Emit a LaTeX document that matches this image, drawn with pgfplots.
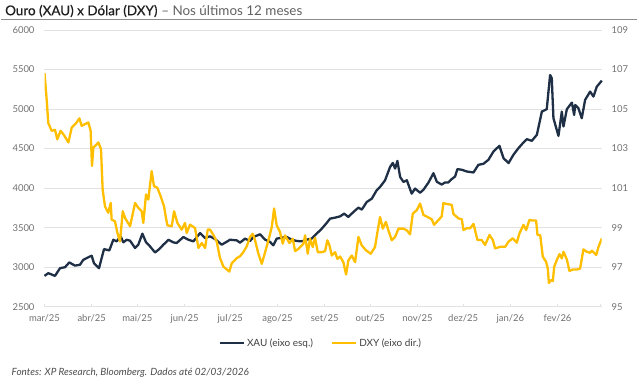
\documentclass[border=0pt]{standalone}
\usepackage{pgfplots}
\usepackage{pgfplotstable}
\pgfplotsset{compat=1.18}
\usepackage{fontspec}
\setmainfont{Lato}
\newfontfamily\titlefont{Lato}[FakeBold=0.5]
\definecolor{xau}{HTML}{1F2F45}
\definecolor{dxy}{HTML}{FFBF00}
\definecolor{tickgray}{HTML}{707070}
\definecolor{gridgray}{HTML}{E2E2E2}

\pgfplotstableread{
day val
0 2890
2.5 2924
6.9 2890
10.2 2987
13.5 3000
16.3 3060
20.0 3020
23.3 3030
25.5 3093
29.9 3136
31.0 3144
32.5 3050
35.8 2987
39.1 3229
42.6 3212
45.2 3347
47.4 3326
50.0 3390
51.8 3314
54.0 3347
56.2 3335
59.5 3242
61.6 3284
64.3 3424
66.7 3314
69.3 3263
72.6 3186
74.8 3220
78.1 3284
81.4 3347
84.6 3314
86.8 3305
91.2 3381
94.5 3347
97.8 3326
102.2 3432
105.5 3369
108.7 3390
112.0 3356
116.4 3284
121.9 3347
126.3 3339
128.4 3310
131.7 3361
135.0 3331
137.2 3382
141.6 3416
144.9 3348
148.2 3319
150.3 3276
152.5 3361
155.8 3373
159.1 3382
162.4 3348
165.7 3331
169.0 3327
172.3 3348
175.5 3361
178.8 3424
182.1 3487
185.0 3551
187.6 3614
190.9 3627
194.2 3643
196.8 3677
199.6 3635
202.9 3698
206.2 3753
208.4 3728
211.7 3825
215.0 3867
218.2 3973
220.4 4015
223.7 4099
227.0 4268
228.8 4319
230.3 4247
231.8 4344
233.6 4141
235.8 4078
238.0 4099
241.2 3930
243.4 3994
246.7 3942
248.9 3979
252.2 4070
255.5 4189
257.7 4080
260.9 4045
263.1 4072
265.3 4072
267.5 4114
269.7 4147
271.2 4240
274.1 4232
277.4 4210
281.8 4198
285.0 4295
288.3 4307
291.6 4358
294.9 4463
298.8 4535
301.5 4379
304.8 4316
308.0 4421
311.3 4505
314.6 4577
316.8 4619
320.1 4598
323.4 4674
326.7 4968
329.9 4998
332.1 5431
333.2 5389
334.3 4884
337.6 4661
339.8 4968
340.9 4779
343.1 4998
346.4 5082
347.9 4926
348.6 5052
350.7 5010
352.9 4884
355.1 5116
358.4 5221
360.6 5158
362.8 5284
366.1 5360
}\xautable

\pgfplotstableread{
day val
0 106.83
1.4 105.51
2.5 104.29
4.7 103.90
6.9 103.95
8.4 103.47
10.6 103.90
12.8 103.68
15.7 103.31
17.9 104.07
21.1 104.32
22.9 104.53
24.4 104.15
26.6 104.24
28.8 104.32
30.3 103.90
31.2 102.12
32.1 103.05
35.4 103.31
37.1 102.97
38.2 100.93
39.7 100.08
41.9 99.75
43.5 100.25
44.1 99.41
46.3 99.32
47.9 98.73
49.6 98.30
51.4 99.83
52.9 99.49
56.2 99.07
59.5 100.25
61.6 100.00
63.8 99.83
64.9 99.24
66.7 100.68
68.2 100.42
70.4 101.86
71.9 101.10
74.1 101.02
76.3 100.59
78.5 100.08
79.6 99.58
80.7 99.12
83.6 99.07
85.1 99.83
87.3 99.24
90.1 98.90
92.3 99.24
93.4 98.73
95.6 99.15
98.9 98.98
101.1 97.97
103.3 98.22
105.5 97.97
107.2 98.90
108.7 98.90
110.9 98.64
113.1 98.30
115.3 97.46
117.5 97.03
120.1 96.86
121.4 96.78
123.0 97.20
126.3 97.46
128.4 97.55
130.6 97.76
132.8 98.05
135.0 98.53
136.8 98.69
138.3 98.36
140.5 97.68
142.7 97.17
144.9 97.76
147.1 98.36
149.3 99.03
150.8 99.97
152.5 99.12
154.7 98.78
156.5 98.19
158.0 98.61
160.9 98.22
163.1 98.44
164.6 97.81
166.8 97.93
170.1 98.19
171.2 98.61
172.9 97.68
174.4 98.44
176.2 98.02
177.7 98.49
179.5 97.76
182.1 97.76
184.3 97.81
185.8 98.36
187.2 98.10
188.7 97.59
190.9 97.76
192.4 97.42
194.2 97.54
196.3 97.25
198.1 96.63
199.6 97.34
201.8 97.59
204.0 97.25
206.2 98.53
208.4 98.10
211.2 97.85
214.3 97.68
217.1 98.02
218.7 98.78
220.4 99.54
222.2 98.95
224.2 99.29
225.9 98.86
228.1 98.36
230.3 98.53
232.5 98.95
235.8 98.95
238.0 98.86
240.1 98.66
241.9 99.71
244.5 99.88
246.7 100.22
248.9 99.64
251.1 99.56
254.4 99.42
255.9 99.14
258.8 99.39
260.9 99.56
262.0 100.24
264.2 100.20
267.5 100.15
268.6 99.69
271.9 99.47
274.1 99.42
275.2 98.88
277.4 98.97
279.6 98.97
281.8 99.19
284.4 98.37
287.2 98.37
289.4 98.12
292.3 98.63
294.5 98.37
296.0 97.95
299.3 98.03
302.6 98.03
304.8 98.29
307.6 98.46
310.2 98.24
312.0 98.71
314.6 99.14
316.4 98.88
318.5 99.39
320.7 99.36
322.9 99.36
323.8 98.63
325.6 98.63
327.3 97.53
329.5 97.27
330.6 96.93
331.3 96.20
332.6 96.34
333.9 96.30
334.8 97.02
336.5 97.36
338.3 97.66
339.8 97.44
340.9 97.78
343.1 97.39
344.8 96.81
347.0 96.88
349.7 96.88
351.8 96.93
354.0 97.90
356.2 97.78
358.4 97.73
359.5 97.83
361.0 97.73
362.4 97.61
363.9 98.03
366.1 98.46
}\dxytable

\begin{document}
\begin{tikzpicture}
\useasboundingbox (0,0) rectangle (639bp,389bp);
\node[anchor=west, inner sep=0] at (5bp,378bp) {\fontsize{13.5}{15}\selectfont{\titlefont\color{black!88}Ouro (XAU) x Dólar (DXY)}\hspace{0.28em}\textcolor{black!62}{–\ Nos últimos 12 meses}};
\draw[black!45, line width=1bp] (1bp,369bp) -- (637bp,369bp);

\begin{axis}[
  at={(44.5bp,82.3bp)}, anchor=south west,
  scale only axis, width=557.2bp, height=276.7bp,
  xmin=0, xmax=366, ymin=2500, ymax=6000,
  axis x line*=bottom, axis y line*=left,
  y axis line style={draw=none},
  x axis line style={draw=gridgray, line width=0.8bp, -},
  ytick={2500,3000,...,6000},
  xtick={0,31,61,92,122,153,184,214,245,275,306,337,365},
  xticklabels={mar/25,abr/25,mai/25,jun/25,jul/25,ago/25,set/25,out/25,nov/25,dez/25,jan/26,fev/26,{}},
  ymajorgrids, grid style={draw=gridgray, line width=0.8bp},
  ytick style={draw=none},
  xtick style={draw=gridgray, line width=0.8bp},
  tick align=inside, major tick length=3bp,
  scaled y ticks=false,
  /pgf/number format/assume math mode=true,
  /pgf/number format/1000 sep={},
  ticklabel style={font=\fontsize{9.5}{11}\selectfont, text=tickgray},
  yticklabel style={xshift=-6.5bp},
  xticklabel style={yshift=-4bp},
  clip=false,
  legend style={at={(0.496,-0.131)}, anchor=center, draw=none, fill=none,
    legend columns=2, font=\fontsize{10}{12}\selectfont, text=black!75,
    /tikz/every even column/.append style={column sep=16bp},
    inner sep=0pt},
  legend cell align=left,
  legend image code/.code={\draw[#1] (0bp,0bp) -- (24bp,0bp);},
]
\addplot[xau, line width=2.3bp, line join=round] table[x=day,y=val] {\xautable};
\addlegendentry{XAU (eixo esq.)}
\addlegendimage{dxy, line width=2.3bp}
\addlegendentry{DXY (eixo dir.)}
\end{axis}

\begin{axis}[
  at={(44.5bp,82.3bp)}, anchor=south west,
  scale only axis, width=557.2bp, height=276.7bp,
  xmin=0, xmax=366, ymin=95, ymax=109,
  axis x line=none, axis y line*=right,
  y axis line style={draw=none},
  ytick={95,97,...,109},
  ytick style={draw=none},
  /pgf/number format/assume math mode=true,
  ticklabel style={font=\fontsize{9.5}{11}\selectfont, text=tickgray},
  yticklabel style={xshift=6.5bp},
]
\addplot[dxy, line width=2.3bp, line join=round] table[x=day,y=val] {\dxytable};
\end{axis}

\node[anchor=west, inner sep=0] at (11.5bp,16bp) {\fontsize{10}{12}\selectfont\itshape\textcolor{black!70}{Fontes: XP Research, Bloomberg. Dados até 02/03/2026}};
\end{tikzpicture}
\end{document}
